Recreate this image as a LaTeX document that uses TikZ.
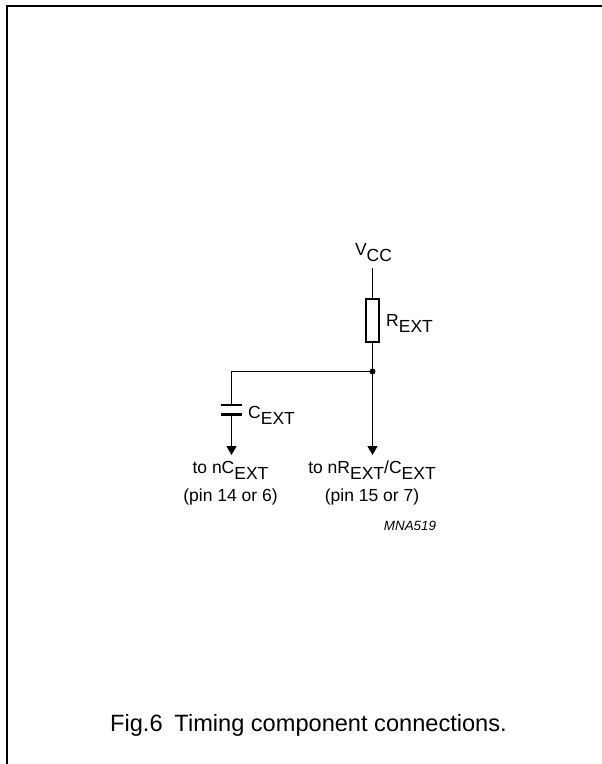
\documentclass[tikz,border=0pt]{standalone}
\usepackage{fontspec}
\setmainfont{Liberation Sans}
\usetikzlibrary{arrows.meta,calc,positioning}
\tikzstyle{lbl} = [inner sep=0pt, anchor=base, font=\fontsize{17.5pt}{20pt}\selectfont]
\tikzstyle{wire} = [black, draw, line width=1.2pt]
\newcommand{\lsub}[1]{\raisebox{-6pt}{#1}}
\begin{document}
\begin{tikzpicture}[x=1pt,y=-1pt,>={Triangle[width=10pt,length=9pt]}]
            \useasboundingbox (0,0) rectangle (602,764);
            % frame
            \draw[line width=2pt] (7.3,764) -- (7.3,5.5) -- (602,5.5);

            \coordinate (Vcc) at (372.5,268);
            \coordinate (Junc) at (372.5,371.5);
            \coordinate (Left) at (231.5,371.5);
            \coordinate (ArrR) at (372.5,455);
            \coordinate (ArrC) at (231.5,455);

            \node[draw, line width=1.2pt, fill=white, minimum width=13pt, minimum height=43pt, inner sep=0pt] (Rext) at (372.5,320.5) {};
            \node[lbl] (VccT) at (373.5,255) {V\lsub{CC}};
            \node[lbl, anchor=base west] (RextT) at (386,326) {R\lsub{EXT}};
            \node[lbl, anchor=base west] (CextT) at (248,418) {C\lsub{EXT}};
            \node[inner sep=0pt, minimum width=21pt, minimum height=9pt] (Cext) at (231.5,409.5) {};
            \node[lbl] (CTo) at (230.5,473) {to nC\lsub{EXT}};
            \node[lbl] (CPin) at (230.5,501) {(pin 14 or 6)};
            \node[lbl] (RTo) at (372,473) {to nR\lsub{EXT}/C\lsub{EXT}};
            \node[lbl] (RPin) at (372,501) {(pin 15 or 7)};
            \node[inner sep=0pt, font=\fontsize{13.4pt}{15pt}\selectfont\itshape] (Code) at (410,526) {MNA519};
            \node[lbl, font=\fontsize{23.6pt}{26pt}\selectfont] (Cap) at (308.5,731) {Fig.6\hspace{0.5em}Timing component connections.};

            \path
                [wire]
                (Vcc) -- (Rext.north)
                (Rext.south) -- (Junc)
                (Junc) -- (Left) -- (Cext.north -| Left);
            \draw[wire, ->] (Junc) -- (ArrR);
            \draw[wire, ->] (Cext.south) -- (ArrC);
            \draw[line width=2.6pt] (Cext.north west) -- (Cext.north east);
            \draw[line width=2.6pt] (Cext.south west) -- (Cext.south east);
            \fill (Junc) circle (3pt);
        \end{tikzpicture}
\end{document}
